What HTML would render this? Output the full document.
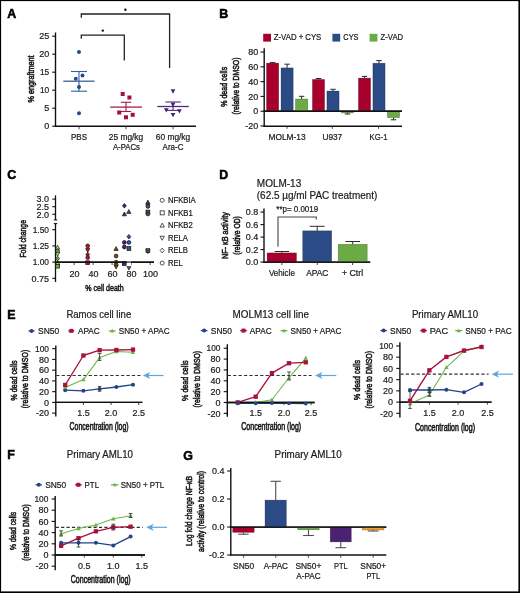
<!DOCTYPE html>
<html><head><meta charset="utf-8"><style>
html,body{margin:0;padding:0;background:#fff;}
svg{display:block;font-family:"Liberation Sans", sans-serif;will-change:transform;}
</style></head><body>
<svg width="520" height="593" viewBox="0 0 520 593">
<rect x="0" y="0" width="520" height="593" fill="#fff"/>
<text transform="translate(7.2,18.2) scale(1.0,1.0)" x="0" y="0" font-size="12.4" text-anchor="start" font-weight="bold" fill="#000" stroke="#000" stroke-width="0.55">A</text>
<line x1="55.5" y1="32.5" x2="55.5" y2="126.8" stroke="#111" stroke-width="1.4"/>
<line x1="54.9" y1="126.2" x2="196" y2="126.2" stroke="#111" stroke-width="1.4"/>
<line x1="52.2" y1="126.2" x2="55.5" y2="126.2" stroke="#111" stroke-width="1.1"/>
<text transform="translate(49.2,129.4) scale(1.0,1.0)" x="0" y="0" font-size="9.0" text-anchor="end" font-weight="normal" fill="#1a1a1a" stroke="#1a1a1a" stroke-width="0.2">0</text>
<line x1="52.2" y1="108.2" x2="55.5" y2="108.2" stroke="#111" stroke-width="1.1"/>
<text transform="translate(49.2,111.4) scale(1.0,1.0)" x="0" y="0" font-size="9.0" text-anchor="end" font-weight="normal" fill="#1a1a1a" stroke="#1a1a1a" stroke-width="0.2">5</text>
<line x1="52.2" y1="90.2" x2="55.5" y2="90.2" stroke="#111" stroke-width="1.1"/>
<text transform="translate(49.2,93.4) scale(0.93,1.0)" x="0" y="0" font-size="9.0" text-anchor="end" font-weight="normal" fill="#1a1a1a" stroke="#1a1a1a" stroke-width="0.2">10</text>
<line x1="52.2" y1="72.2" x2="55.5" y2="72.2" stroke="#111" stroke-width="1.1"/>
<text transform="translate(49.2,75.4) scale(0.93,1.0)" x="0" y="0" font-size="9.0" text-anchor="end" font-weight="normal" fill="#1a1a1a" stroke="#1a1a1a" stroke-width="0.2">15</text>
<line x1="52.2" y1="54.2" x2="55.5" y2="54.2" stroke="#111" stroke-width="1.1"/>
<text transform="translate(49.2,57.400000000000006) scale(1.0,1.0)" x="0" y="0" font-size="9.0" text-anchor="end" font-weight="normal" fill="#1a1a1a" stroke="#1a1a1a" stroke-width="0.2">20</text>
<line x1="52.2" y1="36.2" x2="55.5" y2="36.2" stroke="#111" stroke-width="1.1"/>
<text transform="translate(49.2,39.400000000000006) scale(1.0,1.0)" x="0" y="0" font-size="9.0" text-anchor="end" font-weight="normal" fill="#1a1a1a" stroke="#1a1a1a" stroke-width="0.2">25</text>
<line x1="79" y1="126.2" x2="79" y2="129.3" stroke="#333" stroke-width="0.9"/>
<line x1="126" y1="126.2" x2="126" y2="129.3" stroke="#333" stroke-width="0.9"/>
<line x1="173" y1="126.2" x2="173" y2="129.3" stroke="#333" stroke-width="0.9"/>
<text transform="translate(34.2,78.9) rotate(-90) scale(1.0,1.12)" x="0" y="0" font-size="8.2" text-anchor="middle" font-weight="normal" fill="#1a1a1a" stroke="#1a1a1a" stroke-width="0.5" textLength="47" lengthAdjust="spacingAndGlyphs">% engraftment</text>
<text transform="translate(79,139.9) scale(1.0,1.17)" x="0" y="0" font-size="8" text-anchor="middle" font-weight="normal" fill="#1a1a1a" stroke="#1a1a1a" stroke-width="0.2">PBS</text>
<text transform="translate(126,139.9) scale(1.0,1.17)" x="0" y="0" font-size="8" text-anchor="middle" font-weight="normal" fill="#1a1a1a" stroke="#1a1a1a" stroke-width="0.2" textLength="34.4" lengthAdjust="spacingAndGlyphs">25 mg/kg</text>
<text transform="translate(126.4,149.6) scale(1.0,1.17)" x="0" y="0" font-size="8" text-anchor="middle" font-weight="normal" fill="#1a1a1a" stroke="#1a1a1a" stroke-width="0.2" textLength="27" lengthAdjust="spacingAndGlyphs">A-PACs</text>
<text transform="translate(173,139.9) scale(1.0,1.17)" x="0" y="0" font-size="8" text-anchor="middle" font-weight="normal" fill="#1a1a1a" stroke="#1a1a1a" stroke-width="0.2" textLength="34.4" lengthAdjust="spacingAndGlyphs">60 mg/kg</text>
<text transform="translate(173,149.6) scale(1.0,1.17)" x="0" y="0" font-size="8" text-anchor="middle" font-weight="normal" fill="#1a1a1a" stroke="#1a1a1a" stroke-width="0.2">Ara-C</text>
<polyline points="81.3,17.8 81.3,14 169.6,14 169.6,68" fill="none" stroke="#222" stroke-width="1.3"/>
<polyline points="81.3,38.8 81.3,35.2 124.3,35.2 124.3,60.6" fill="none" stroke="#222" stroke-width="1.3"/>
<circle cx="125.4" cy="9.8" r="1.2" fill="#111"/>
<circle cx="102.8" cy="30.6" r="1.2" fill="#111"/>
<line x1="63.3" y1="81.2" x2="94.6" y2="81.2" stroke="#3b5e98" stroke-width="1.3"/>
<line x1="79" y1="71.5" x2="79" y2="91.2" stroke="#3b5e98" stroke-width="1.1"/>
<line x1="71" y1="71.5" x2="87" y2="71.5" stroke="#3b5e98" stroke-width="1.1"/>
<line x1="71" y1="91.2" x2="87" y2="91.2" stroke="#3b5e98" stroke-width="1.1"/>
<circle cx="79" cy="52.1" r="2.0" fill="#244a8a"/>
<circle cx="75.8" cy="78.7" r="2.0" fill="#244a8a"/>
<circle cx="82.5" cy="75.4" r="2.0" fill="#244a8a"/>
<circle cx="79" cy="87.1" r="2.0" fill="#244a8a"/>
<circle cx="79" cy="113.3" r="2.0" fill="#244a8a"/>
<line x1="110.2" y1="107.1" x2="142" y2="107.1" stroke="#a81c45" stroke-width="1.3"/>
<line x1="126" y1="102.3" x2="126" y2="111.5" stroke="#a81c45" stroke-width="1.1"/>
<line x1="120.8" y1="102.3" x2="131.2" y2="102.3" stroke="#a81c45" stroke-width="1.1"/>
<line x1="120.8" y1="111.5" x2="131.2" y2="111.5" stroke="#a81c45" stroke-width="1.1"/>
<rect x="120.7" y="92.0" width="4.0" height="4.0" fill="#a50f3a"/>
<rect x="127.4" y="95.5" width="4.0" height="4.0" fill="#a50f3a"/>
<rect x="117.2" y="110.5" width="4.0" height="4.0" fill="#a50f3a"/>
<rect x="124.0" y="115.3" width="4.0" height="4.0" fill="#a50f3a"/>
<rect x="130.7" y="112.8" width="4.0" height="4.0" fill="#a50f3a"/>
<line x1="157.3" y1="106.5" x2="188.8" y2="106.5" stroke="#4f2c7e" stroke-width="1.3"/>
<line x1="173" y1="102" x2="173" y2="110.4" stroke="#4f2c7e" stroke-width="1.1"/>
<line x1="165.4" y1="102" x2="180.8" y2="102" stroke="#4f2c7e" stroke-width="1.1"/>
<line x1="165.4" y1="110.4" x2="180.8" y2="110.4" stroke="#4f2c7e" stroke-width="1.1"/>
<path d="M173,93.6725 L175.365,89.3725 L170.635,89.3725 Z" fill="#4a2276"/>
<path d="M166.3,112.4725 L168.66500000000002,108.1725 L163.935,108.1725 Z" fill="#4a2276"/>
<path d="M173,107.07249999999999 L175.365,102.7725 L170.635,102.7725 Z" fill="#4a2276"/>
<path d="M179.4,113.4725 L181.76500000000001,109.1725 L177.035,109.1725 Z" fill="#4a2276"/>
<path d="M173,117.2725 L175.365,112.9725 L170.635,112.9725 Z" fill="#4a2276"/>
<text transform="translate(219.2,18.0) scale(1.0,1.0)" x="0" y="0" font-size="12.4" text-anchor="start" font-weight="bold" fill="#000" stroke="#000" stroke-width="0.55">B</text>
<line x1="264.2" y1="48.3" x2="264.2" y2="126.8" stroke="#111" stroke-width="1.4"/>
<line x1="263.59999999999997" y1="111.2" x2="402" y2="111.2" stroke="#111" stroke-width="1.4"/>
<line x1="263.59999999999997" y1="126.2" x2="402" y2="126.2" stroke="#111" stroke-width="1.4"/>
<line x1="260.5" y1="125.98" x2="264.2" y2="125.98" stroke="#111" stroke-width="1.1"/>
<text transform="translate(258.2,129.18) scale(1.0,1.0)" x="0" y="0" font-size="9.0" text-anchor="end" font-weight="normal" fill="#1a1a1a" stroke="#1a1a1a" stroke-width="0.2">-20</text>
<line x1="260.5" y1="111.2" x2="264.2" y2="111.2" stroke="#111" stroke-width="1.1"/>
<text transform="translate(258.2,114.4) scale(1.0,1.0)" x="0" y="0" font-size="9.0" text-anchor="end" font-weight="normal" fill="#1a1a1a" stroke="#1a1a1a" stroke-width="0.2">0</text>
<line x1="260.5" y1="96.42" x2="264.2" y2="96.42" stroke="#111" stroke-width="1.1"/>
<text transform="translate(258.2,99.62) scale(1.0,1.0)" x="0" y="0" font-size="9.0" text-anchor="end" font-weight="normal" fill="#1a1a1a" stroke="#1a1a1a" stroke-width="0.2">20</text>
<line x1="260.5" y1="81.64" x2="264.2" y2="81.64" stroke="#111" stroke-width="1.1"/>
<text transform="translate(258.2,84.84) scale(1.0,1.0)" x="0" y="0" font-size="9.0" text-anchor="end" font-weight="normal" fill="#1a1a1a" stroke="#1a1a1a" stroke-width="0.2">40</text>
<line x1="260.5" y1="66.86000000000001" x2="264.2" y2="66.86000000000001" stroke="#111" stroke-width="1.1"/>
<text transform="translate(258.2,70.06000000000002) scale(1.0,1.0)" x="0" y="0" font-size="9.0" text-anchor="end" font-weight="normal" fill="#1a1a1a" stroke="#1a1a1a" stroke-width="0.2">60</text>
<line x1="260.5" y1="52.080000000000005" x2="264.2" y2="52.080000000000005" stroke="#111" stroke-width="1.1"/>
<text transform="translate(258.2,55.28000000000001) scale(1.0,1.0)" x="0" y="0" font-size="9.0" text-anchor="end" font-weight="normal" fill="#1a1a1a" stroke="#1a1a1a" stroke-width="0.2">80</text>
<line x1="287" y1="126.2" x2="287" y2="128.8" stroke="#333" stroke-width="0.9"/>
<text transform="translate(287,140.1) scale(1.0,1.17)" x="0" y="0" font-size="8.2" text-anchor="middle" font-weight="normal" fill="#1a1a1a" stroke="#1a1a1a" stroke-width="0.2" textLength="37.2" lengthAdjust="spacingAndGlyphs">MOLM-13</text>
<line x1="332.3" y1="126.2" x2="332.3" y2="128.8" stroke="#333" stroke-width="0.9"/>
<text transform="translate(332.3,140.1) scale(1.0,1.17)" x="0" y="0" font-size="8.2" text-anchor="middle" font-weight="normal" fill="#1a1a1a" stroke="#1a1a1a" stroke-width="0.2" textLength="19.8" lengthAdjust="spacingAndGlyphs">U937</text>
<line x1="378.6" y1="126.2" x2="378.6" y2="128.8" stroke="#333" stroke-width="0.9"/>
<text transform="translate(378.6,140.1) scale(1.0,1.17)" x="0" y="0" font-size="8.2" text-anchor="middle" font-weight="normal" fill="#1a1a1a" stroke="#1a1a1a" stroke-width="0.2" textLength="18.0" lengthAdjust="spacingAndGlyphs">KG-1</text>
<text transform="translate(227.1,86.8) rotate(-90) scale(1.0,1.12)" x="0" y="0" font-size="8.6" text-anchor="middle" font-weight="normal" fill="#1a1a1a" stroke="#1a1a1a" stroke-width="0.5" textLength="40" lengthAdjust="spacingAndGlyphs">% dead cells</text>
<text transform="translate(239.2,86.0) rotate(-90) scale(1.0,1.12)" x="0" y="0" font-size="8.6" text-anchor="middle" font-weight="normal" fill="#1a1a1a" stroke="#1a1a1a" stroke-width="0.5" textLength="57" lengthAdjust="spacingAndGlyphs">(relative to DMSO)</text>
<rect x="263.2" y="33.8" width="7.8" height="7.8" fill="#a8002c"/>
<text transform="translate(273.8,40.4) scale(1.0,1.17)" x="0" y="0" font-size="7.9" text-anchor="start" font-weight="normal" fill="#1a1a1a" stroke="#1a1a1a" stroke-width="0.2" textLength="47.5" lengthAdjust="spacingAndGlyphs">Z-VAD + CYS</text>
<rect x="332.4" y="33.8" width="7.8" height="7.8" fill="#2b4b86"/>
<text transform="translate(343.3,40.4) scale(1.0,1.17)" x="0" y="0" font-size="7.9" text-anchor="start" font-weight="normal" fill="#1a1a1a" stroke="#1a1a1a" stroke-width="0.2" textLength="15.2" lengthAdjust="spacingAndGlyphs">CYS</text>
<rect x="369.6" y="33.8" width="7.8" height="7.8" fill="#6aab43"/>
<text transform="translate(380.6,40.4) scale(1.0,1.17)" x="0" y="0" font-size="7.9" text-anchor="start" font-weight="normal" fill="#1a1a1a" stroke="#1a1a1a" stroke-width="0.2" textLength="22.5" lengthAdjust="spacingAndGlyphs">Z-VAD</text>
<rect x="266.5" y="63.1" width="12.2" height="48.1" fill="#a8002c" stroke="rgba(0,0,0,0.35)" stroke-width="0.6"/>
<line x1="272.6" y1="63.1" x2="272.6" y2="62.6" stroke="#2a2a2a" stroke-width="1.0"/>
<line x1="269.85" y1="62.6" x2="275.35" y2="62.6" stroke="#2a2a2a" stroke-width="1.0"/>
<rect x="281.0" y="67.9" width="12.2" height="43.3" fill="#2b4b86" stroke="rgba(0,0,0,0.35)" stroke-width="0.6"/>
<line x1="287.1" y1="67.9" x2="287.1" y2="64.2" stroke="#2a2a2a" stroke-width="1.0"/>
<line x1="284.35" y1="64.2" x2="289.85" y2="64.2" stroke="#2a2a2a" stroke-width="1.0"/>
<rect x="295.5" y="99.0" width="12.2" height="12.200000000000003" fill="#6aab43" stroke="rgba(0,0,0,0.35)" stroke-width="0.6"/>
<line x1="301.6" y1="99.0" x2="301.6" y2="96.3" stroke="#2a2a2a" stroke-width="1.0"/>
<line x1="298.85" y1="96.3" x2="304.35" y2="96.3" stroke="#2a2a2a" stroke-width="1.0"/>
<rect x="312.4" y="79.4" width="12.2" height="31.799999999999997" fill="#a8002c" stroke="rgba(0,0,0,0.35)" stroke-width="0.6"/>
<line x1="318.5" y1="79.4" x2="318.5" y2="78.5" stroke="#2a2a2a" stroke-width="1.0"/>
<line x1="315.75" y1="78.5" x2="321.25" y2="78.5" stroke="#2a2a2a" stroke-width="1.0"/>
<rect x="326.9" y="91.0" width="12.2" height="20.200000000000003" fill="#2b4b86" stroke="rgba(0,0,0,0.35)" stroke-width="0.6"/>
<line x1="333.0" y1="91.0" x2="333.0" y2="89.3" stroke="#2a2a2a" stroke-width="1.0"/>
<line x1="330.25" y1="89.3" x2="335.75" y2="89.3" stroke="#2a2a2a" stroke-width="1.0"/>
<rect x="341.4" y="111.2" width="12.2" height="1.7000000000000028" fill="#6aab43" stroke="rgba(0,0,0,0.35)" stroke-width="0.6"/>
<line x1="347.5" y1="112.9" x2="347.5" y2="114.0" stroke="#2a2a2a" stroke-width="1.0"/>
<line x1="344.75" y1="114.0" x2="350.25" y2="114.0" stroke="#2a2a2a" stroke-width="1.0"/>
<rect x="358.4" y="78.1" width="12.2" height="33.10000000000001" fill="#a8002c" stroke="rgba(0,0,0,0.35)" stroke-width="0.6"/>
<line x1="364.5" y1="78.1" x2="364.5" y2="76.4" stroke="#2a2a2a" stroke-width="1.0"/>
<line x1="361.75" y1="76.4" x2="367.25" y2="76.4" stroke="#2a2a2a" stroke-width="1.0"/>
<rect x="372.9" y="63.2" width="12.2" height="48.0" fill="#2b4b86" stroke="rgba(0,0,0,0.35)" stroke-width="0.6"/>
<line x1="379.0" y1="63.2" x2="379.0" y2="60.6" stroke="#2a2a2a" stroke-width="1.0"/>
<line x1="376.25" y1="60.6" x2="381.75" y2="60.6" stroke="#2a2a2a" stroke-width="1.0"/>
<rect x="387.4" y="111.2" width="12.2" height="6.3999999999999915" fill="#6aab43" stroke="rgba(0,0,0,0.35)" stroke-width="0.6"/>
<line x1="393.5" y1="117.6" x2="393.5" y2="119.8" stroke="#2a2a2a" stroke-width="1.0"/>
<line x1="390.75" y1="119.8" x2="396.25" y2="119.8" stroke="#2a2a2a" stroke-width="1.0"/>
<line x1="263.59999999999997" y1="111.2" x2="402" y2="111.2" stroke="#111" stroke-width="1.4"/>
<text transform="translate(7.2,179.0) scale(1.0,1.0)" x="0" y="0" font-size="12.4" text-anchor="start" font-weight="bold" fill="#000" stroke="#000" stroke-width="0.55">C</text>
<line x1="55.5" y1="195.4" x2="55.5" y2="219.9" stroke="#111" stroke-width="1.3"/>
<line x1="53.8" y1="219.9" x2="57.2" y2="219.9" stroke="#111" stroke-width="1.1"/>
<line x1="53.8" y1="223.6" x2="57.2" y2="223.6" stroke="#111" stroke-width="1.1"/>
<line x1="55.5" y1="223.6" x2="55.5" y2="282" stroke="#111" stroke-width="1.3"/>
<line x1="52.3" y1="199.1" x2="55.5" y2="199.1" stroke="#111" stroke-width="1.1"/>
<text transform="translate(49.0,202.29999999999998) scale(1.0,1.0)" x="0" y="0" font-size="9.0" text-anchor="end" font-weight="normal" fill="#1a1a1a" stroke="#1a1a1a" stroke-width="0.2">3.0</text>
<line x1="52.3" y1="206.7" x2="55.5" y2="206.7" stroke="#111" stroke-width="1.1"/>
<text transform="translate(49.0,209.89999999999998) scale(1.0,1.0)" x="0" y="0" font-size="9.0" text-anchor="end" font-weight="normal" fill="#1a1a1a" stroke="#1a1a1a" stroke-width="0.2">2.5</text>
<line x1="52.3" y1="214.3" x2="55.5" y2="214.3" stroke="#111" stroke-width="1.1"/>
<text transform="translate(49.0,217.5) scale(1.0,1.0)" x="0" y="0" font-size="9.0" text-anchor="end" font-weight="normal" fill="#1a1a1a" stroke="#1a1a1a" stroke-width="0.2">2.0</text>
<line x1="52.3" y1="229.7" x2="55.5" y2="229.7" stroke="#111" stroke-width="1.1"/>
<text transform="translate(49.0,232.89999999999998) scale(0.93,1.0)" x="0" y="0" font-size="9.0" text-anchor="end" font-weight="normal" fill="#1a1a1a" stroke="#1a1a1a" stroke-width="0.2">1.50</text>
<line x1="52.3" y1="245.9" x2="55.5" y2="245.9" stroke="#111" stroke-width="1.1"/>
<text transform="translate(49.0,249.1) scale(0.93,1.0)" x="0" y="0" font-size="9.0" text-anchor="end" font-weight="normal" fill="#1a1a1a" stroke="#1a1a1a" stroke-width="0.2">1.25</text>
<line x1="52.3" y1="262.1" x2="55.5" y2="262.1" stroke="#111" stroke-width="1.1"/>
<text transform="translate(49.0,265.3) scale(0.93,1.0)" x="0" y="0" font-size="9.0" text-anchor="end" font-weight="normal" fill="#1a1a1a" stroke="#1a1a1a" stroke-width="0.2">1.00</text>
<line x1="52.3" y1="278.3" x2="55.5" y2="278.3" stroke="#111" stroke-width="1.1"/>
<text transform="translate(49.0,281.5) scale(1.0,1.0)" x="0" y="0" font-size="9.0" text-anchor="end" font-weight="normal" fill="#1a1a1a" stroke="#1a1a1a" stroke-width="0.2">0.75</text>
<line x1="54.9" y1="262.2" x2="154" y2="262.2" stroke="#111" stroke-width="1.4"/>
<line x1="74.1" y1="262.2" x2="74.1" y2="265" stroke="#333" stroke-width="0.9"/>
<text transform="translate(74.5,277) scale(1.0,1.0)" x="0" y="0" font-size="9.0" text-anchor="middle" font-weight="normal" fill="#1a1a1a" stroke="#1a1a1a" stroke-width="0.2">20</text>
<line x1="93.1" y1="262.2" x2="93.1" y2="265" stroke="#333" stroke-width="0.9"/>
<text transform="translate(93.5,277) scale(1.0,1.0)" x="0" y="0" font-size="9.0" text-anchor="middle" font-weight="normal" fill="#1a1a1a" stroke="#1a1a1a" stroke-width="0.2">40</text>
<line x1="112.1" y1="262.2" x2="112.1" y2="265" stroke="#333" stroke-width="0.9"/>
<text transform="translate(112.5,277) scale(1.0,1.0)" x="0" y="0" font-size="9.0" text-anchor="middle" font-weight="normal" fill="#1a1a1a" stroke="#1a1a1a" stroke-width="0.2">60</text>
<line x1="131.1" y1="262.2" x2="131.1" y2="265" stroke="#333" stroke-width="0.9"/>
<text transform="translate(131.5,277) scale(1.0,1.0)" x="0" y="0" font-size="9.0" text-anchor="middle" font-weight="normal" fill="#1a1a1a" stroke="#1a1a1a" stroke-width="0.2">80</text>
<line x1="150.1" y1="262.2" x2="150.1" y2="265" stroke="#333" stroke-width="0.9"/>
<text transform="translate(150.5,277) scale(1.0,1.0)" x="0" y="0" font-size="9.0" text-anchor="middle" font-weight="normal" fill="#1a1a1a" stroke="#1a1a1a" stroke-width="0.2">100</text>
<text transform="translate(25.8,238.8) rotate(-90) scale(1.0,1.12)" x="0" y="0" font-size="8.6" text-anchor="middle" font-weight="normal" fill="#1a1a1a" stroke="#1a1a1a" stroke-width="0.5" textLength="37.5" lengthAdjust="spacingAndGlyphs">Fold change</text>
<text transform="translate(104.5,291.2) scale(1.0,1.06)" x="0" y="0" font-size="8.6" text-anchor="middle" font-weight="normal" fill="#1a1a1a" stroke="#1a1a1a" stroke-width="0.5" textLength="38.5" lengthAdjust="spacingAndGlyphs">% cell death</text>
<circle cx="162.2" cy="200.3" r="2.0" fill="none" stroke="#333" stroke-width="0.85"/>
<text transform="translate(167.9,203.10000000000002) scale(1.0,1.17)" x="0" y="0" font-size="7.7" text-anchor="start" font-weight="normal" fill="#1a1a1a" stroke="#1a1a1a" stroke-width="0.2">NFKBIA</text>
<rect x="160.2" y="210.85000000000002" width="4.0" height="4.0" fill="none" stroke="#333" stroke-width="0.85"/>
<text transform="translate(167.9,215.65000000000003) scale(1.0,1.17)" x="0" y="0" font-size="7.7" text-anchor="start" font-weight="normal" fill="#1a1a1a" stroke="#1a1a1a" stroke-width="0.2">NFKB1</text>
<path d="M162.2,223.1 L164.39999999999998,227.1 L160.0,227.1 Z" fill="none" stroke="#333" stroke-width="0.85"/>
<text transform="translate(167.9,228.20000000000002) scale(1.0,1.17)" x="0" y="0" font-size="7.7" text-anchor="start" font-weight="normal" fill="#1a1a1a" stroke="#1a1a1a" stroke-width="0.2">NFKB2</text>
<path d="M162.2,240.25000000000003 L164.39999999999998,236.25000000000003 L160.0,236.25000000000003 Z" fill="none" stroke="#333" stroke-width="0.85"/>
<text transform="translate(167.9,240.75000000000003) scale(1.0,1.17)" x="0" y="0" font-size="7.7" text-anchor="start" font-weight="normal" fill="#1a1a1a" stroke="#1a1a1a" stroke-width="0.2">RELA</text>
<path d="M162.2,248.1 L164.2,250.5 L162.2,252.9 L160.2,250.5 Z" fill="none" stroke="#333" stroke-width="0.85"/>
<text transform="translate(167.9,253.3) scale(1.0,1.17)" x="0" y="0" font-size="7.7" text-anchor="start" font-weight="normal" fill="#1a1a1a" stroke="#1a1a1a" stroke-width="0.2">RELB</text>
<circle cx="162.2" cy="263.05" r="2.0" fill="none" stroke="#333" stroke-width="0.85"/>
<text transform="translate(167.9,265.85) scale(1.0,1.17)" x="0" y="0" font-size="7.7" text-anchor="start" font-weight="normal" fill="#1a1a1a" stroke="#1a1a1a" stroke-width="0.2">REL</text>
<path d="M57.6,245.315 L59.69,249.115 L55.510000000000005,249.115 Z" fill="#b5e48c" stroke="#111" stroke-width="0.7"/>
<circle cx="57.6" cy="251.1" r="1.9" fill="#5fb233" stroke="#111" stroke-width="0.7"/>
<path d="M57.6,256.185 L59.69,252.385 L55.510000000000005,252.385 Z" fill="#b5e48c" stroke="#111" stroke-width="0.7"/>
<path d="M57.6,256.32000000000005 L59.5,258.6 L57.6,260.88 L55.7,258.6 Z" fill="#5fb233" stroke="#111" stroke-width="0.7"/>
<path d="M57.6,260.815 L59.69,264.615 L55.510000000000005,264.615 Z" fill="#b5e48c" stroke="#111" stroke-width="0.7"/>
<rect x="55.7" y="264.3" width="3.8" height="3.8" fill="#5fb233" stroke="#111" stroke-width="0.7"/>
<circle cx="87.7" cy="245.9" r="1.9" fill="#c0102e" stroke="#111" stroke-width="0.7"/>
<path d="M87.7,252.385 L89.79,248.58499999999998 L85.61,248.58499999999998 Z" fill="#c0102e" stroke="#111" stroke-width="0.7"/>
<path d="M87.7,252.22 L89.60000000000001,254.5 L87.7,256.78 L85.8,254.5 Z" fill="#c0102e" stroke="#111" stroke-width="0.7"/>
<circle cx="87.7" cy="257.6" r="1.9" fill="#c0102e" stroke="#111" stroke-width="0.7"/>
<rect x="85.8" y="260.8" width="3.8" height="3.8" fill="#c0102e" stroke="#111" stroke-width="0.7"/>
<path d="M116.1,246.615 L118.19,250.41500000000002 L114.00999999999999,250.41500000000002 Z" fill="#7f4c16" stroke="#111" stroke-width="0.7"/>
<circle cx="116.1" cy="256.0" r="1.9" fill="#7f4c16" stroke="#111" stroke-width="0.7"/>
<circle cx="116.1" cy="262.2" r="1.9" fill="#7f4c16" stroke="#111" stroke-width="0.7"/>
<path d="M116.1,262.42 L118.0,264.7 L116.1,266.97999999999996 L114.19999999999999,264.7 Z" fill="#7f4c16" stroke="#111" stroke-width="0.7"/>
<path d="M116.1,268.985 L118.19,265.185 L114.00999999999999,265.185 Z" fill="#7f4c16" stroke="#111" stroke-width="0.7"/>
<path d="M124.4,203.52 L126.30000000000001,205.8 L124.4,208.08 L122.5,205.8 Z" fill="#4f1f78" stroke="#111" stroke-width="0.7"/>
<path d="M124.4,212.015 L126.49000000000001,215.815 L122.31,215.815 Z" fill="#4f1f78" stroke="#111" stroke-width="0.7"/>
<circle cx="124.3" cy="242.4" r="1.9" fill="#4f1f78" stroke="#111" stroke-width="0.7"/>
<circle cx="124.3" cy="247.0" r="1.9" fill="#4f1f78" stroke="#111" stroke-width="0.7"/>
<rect x="122.39999999999999" y="261.70000000000005" width="3.8" height="3.8" fill="#4f1f78" stroke="#111" stroke-width="0.7"/>
<path d="M128.8,209.615 L130.89000000000001,213.41500000000002 L126.71000000000001,213.41500000000002 Z" fill="#2a559c" stroke="#111" stroke-width="0.7"/>
<path d="M128.9,234.42 L130.8,236.7 L128.9,238.98 L127.0,236.7 Z" fill="#2a559c" stroke="#111" stroke-width="0.7"/>
<circle cx="128.9" cy="242.4" r="1.9" fill="#2a559c" stroke="#111" stroke-width="0.7"/>
<rect x="127.0" y="246.6" width="3.8" height="3.8" fill="#2a559c" stroke="#111" stroke-width="0.7"/>
<path d="M128.9,270.085 L130.99,266.28499999999997 L126.81,266.28499999999997 Z" fill="#2a559c" stroke="#111" stroke-width="0.7"/>
<path d="M147.9,200.115 L149.99,203.91500000000002 L145.81,203.91500000000002 Z" fill="#46536c" stroke="#111" stroke-width="0.7"/>
<path d="M147.9,202.32 L149.8,204.6 L147.9,206.88 L146.0,204.6 Z" fill="#46536c" stroke="#111" stroke-width="0.7"/>
<circle cx="147.9" cy="206.4" r="1.9" fill="#46536c" stroke="#111" stroke-width="0.7"/>
<rect x="146.0" y="210.1" width="3.8" height="3.8" fill="#46536c" stroke="#111" stroke-width="0.7"/>
<circle cx="147.9" cy="214.0" r="1.9" fill="#46536c" stroke="#111" stroke-width="0.7"/>
<path d="M147.9,253.585 L149.99,249.785 L145.81,249.785 Z" fill="#46536c" stroke="#111" stroke-width="0.7"/>
<rect x="146.0" y="248.7" width="3.8" height="3.8" fill="#46536c" stroke="#111" stroke-width="0.7"/>
<rect x="126.8" y="262.6" width="4.2" height="3.6" fill="#fff"/>
<line x1="54.9" y1="262.2" x2="126.8" y2="262.2" stroke="#111" stroke-width="1.4"/>
<line x1="131.0" y1="262.2" x2="154" y2="262.2" stroke="#111" stroke-width="1.4"/>
<text transform="translate(219.2,179.2) scale(1.0,1.0)" x="0" y="0" font-size="12.4" text-anchor="start" font-weight="bold" fill="#000" stroke="#000" stroke-width="0.55">D</text>
<text transform="translate(256.8,186.9) scale(1.0,1.05)" x="0" y="0" font-size="10" text-anchor="start" font-weight="normal" fill="#1a1a1a" stroke="#1a1a1a" stroke-width="0.2">MOLM-13</text>
<text transform="translate(256.8,199.2) scale(1.0,1.05)" x="0" y="0" font-size="10" text-anchor="start" font-weight="normal" fill="#1a1a1a" stroke="#1a1a1a" stroke-width="0.2" textLength="120.5" lengthAdjust="spacingAndGlyphs">(62.5 µg/ml PAC treatment)</text>
<line x1="264.0" y1="208.5" x2="264.0" y2="262.70000000000005" stroke="#111" stroke-width="1.4"/>
<line x1="263.4" y1="262.1" x2="370.2" y2="262.1" stroke="#111" stroke-width="1.4"/>
<line x1="260.5" y1="262.1" x2="264.0" y2="262.1" stroke="#111" stroke-width="1.1"/>
<text transform="translate(258.2,265.3) scale(1.0,1.0)" x="0" y="0" font-size="9.0" text-anchor="end" font-weight="normal" fill="#1a1a1a" stroke="#1a1a1a" stroke-width="0.2">0.0</text>
<line x1="260.5" y1="249.60000000000002" x2="264.0" y2="249.60000000000002" stroke="#111" stroke-width="1.1"/>
<text transform="translate(258.2,252.8) scale(1.0,1.0)" x="0" y="0" font-size="9.0" text-anchor="end" font-weight="normal" fill="#1a1a1a" stroke="#1a1a1a" stroke-width="0.2">0.2</text>
<line x1="260.5" y1="237.10000000000002" x2="264.0" y2="237.10000000000002" stroke="#111" stroke-width="1.1"/>
<text transform="translate(258.2,240.3) scale(1.0,1.0)" x="0" y="0" font-size="9.0" text-anchor="end" font-weight="normal" fill="#1a1a1a" stroke="#1a1a1a" stroke-width="0.2">0.4</text>
<line x1="260.5" y1="224.60000000000002" x2="264.0" y2="224.60000000000002" stroke="#111" stroke-width="1.1"/>
<text transform="translate(258.2,227.8) scale(1.0,1.0)" x="0" y="0" font-size="9.0" text-anchor="end" font-weight="normal" fill="#1a1a1a" stroke="#1a1a1a" stroke-width="0.2">0.6</text>
<line x1="260.5" y1="212.10000000000002" x2="264.0" y2="212.10000000000002" stroke="#111" stroke-width="1.1"/>
<text transform="translate(258.2,215.3) scale(1.0,1.0)" x="0" y="0" font-size="9.0" text-anchor="end" font-weight="normal" fill="#1a1a1a" stroke="#1a1a1a" stroke-width="0.2">0.8</text>
<text transform="translate(228.1,235.6) rotate(-90) scale(1.0,1.12)" x="0" y="0" font-size="8.6" text-anchor="middle" font-weight="normal" fill="#1a1a1a" stroke="#1a1a1a" stroke-width="0.5" textLength="47" lengthAdjust="spacingAndGlyphs">NF- κB activity</text>
<text transform="translate(239.6,235.4) rotate(-90) scale(1.0,1.12)" x="0" y="0" font-size="8.6" text-anchor="middle" font-weight="normal" fill="#1a1a1a" stroke="#1a1a1a" stroke-width="0.5" textLength="38.5" lengthAdjust="spacingAndGlyphs">(relative OD)</text>
<rect x="267.1" y="252.9" width="29.4" height="9.200000000000017" fill="#a8002c" stroke="rgba(0,0,0,0.35)" stroke-width="0.6"/>
<line x1="281.8" y1="252.9" x2="281.8" y2="251.5" stroke="#2a2a2a" stroke-width="1.0"/>
<line x1="274.6" y1="251.5" x2="289.0" y2="251.5" stroke="#2a2a2a" stroke-width="1.0"/>
<rect x="302.7" y="230.8" width="29.0" height="31.30000000000001" fill="#2b4b86" stroke="rgba(0,0,0,0.35)" stroke-width="0.6"/>
<line x1="317.2" y1="230.8" x2="317.2" y2="226.3" stroke="#2a2a2a" stroke-width="1.0"/>
<line x1="309.8" y1="226.3" x2="324.59999999999997" y2="226.3" stroke="#2a2a2a" stroke-width="1.0"/>
<rect x="338.2" y="244.3" width="29.0" height="17.80000000000001" fill="#6aab43" stroke="rgba(0,0,0,0.35)" stroke-width="0.6"/>
<line x1="352.7" y1="244.3" x2="352.7" y2="241.5" stroke="#2a2a2a" stroke-width="1.0"/>
<line x1="345.4" y1="241.5" x2="360.0" y2="241.5" stroke="#2a2a2a" stroke-width="1.0"/>
<line x1="263.4" y1="262.1" x2="370.2" y2="262.1" stroke="#111" stroke-width="1.4"/>
<line x1="281.9" y1="262.1" x2="281.9" y2="265" stroke="#333" stroke-width="0.9"/>
<text transform="translate(281.9,276.2) scale(1.0,1.17)" x="0" y="0" font-size="8.2" text-anchor="middle" font-weight="normal" fill="#1a1a1a" stroke="#1a1a1a" stroke-width="0.2" textLength="26.0" lengthAdjust="spacingAndGlyphs">Vehicle</text>
<line x1="317.3" y1="262.1" x2="317.3" y2="265" stroke="#333" stroke-width="0.9"/>
<text transform="translate(317.3,276.2) scale(1.0,1.17)" x="0" y="0" font-size="8.2" text-anchor="middle" font-weight="normal" fill="#1a1a1a" stroke="#1a1a1a" stroke-width="0.2" textLength="22.2" lengthAdjust="spacingAndGlyphs">APAC</text>
<line x1="352.6" y1="262.1" x2="352.6" y2="265" stroke="#333" stroke-width="0.9"/>
<text transform="translate(352.6,276.2) scale(1.0,1.17)" x="0" y="0" font-size="8.2" text-anchor="middle" font-weight="normal" fill="#1a1a1a" stroke="#1a1a1a" stroke-width="0.2" textLength="21.0" lengthAdjust="spacingAndGlyphs">+ Ctrl</text>
<polyline points="278,246.7 278,217 316.3,217 316.3,219.4" fill="none" stroke="#444" stroke-width="1.1"/>
<text transform="translate(276.3,211.5) scale(1.0,1.17)" x="0" y="0" font-size="7.9" text-anchor="start" font-weight="normal" fill="#1a1a1a" stroke="#1a1a1a" stroke-width="0.2" textLength="41.8" lengthAdjust="spacingAndGlyphs">**p= 0.0019</text>
<text transform="translate(7.2,319.3) scale(1.0,1.0)" x="0" y="0" font-size="12.4" text-anchor="start" font-weight="bold" fill="#000" stroke="#000" stroke-width="0.55">E</text>
<text transform="translate(66.4,317.7) scale(1.0,1.05)" x="0" y="0" font-size="9.9" text-anchor="start" font-weight="normal" fill="#1a1a1a" stroke="#1a1a1a" stroke-width="0.2" textLength="64.8" lengthAdjust="spacingAndGlyphs">Ramos cell line</text>
<line x1="28.5" y1="330.9" x2="34.6" y2="330.9" stroke="#23448a" stroke-width="1.3"/>
<circle cx="31.55" cy="330.9" r="2.0" fill="#23448a"/>
<text transform="translate(38.0,333.9) scale(1.0,1.08)" x="0" y="0" font-size="8.3" text-anchor="start" font-weight="normal" fill="#1a1a1a" stroke="#1a1a1a" stroke-width="0.2" textLength="21.2" lengthAdjust="spacingAndGlyphs">SN50</text>
<line x1="68.3" y1="330.9" x2="74.4" y2="330.9" stroke="#a8113a" stroke-width="1.3"/>
<rect x="69.35" y="328.9" width="4.0" height="4.0" fill="#a8113a"/>
<text transform="translate(77.9,333.9) scale(1.0,1.08)" x="0" y="0" font-size="8.3" text-anchor="start" font-weight="normal" fill="#1a1a1a" stroke="#1a1a1a" stroke-width="0.2" textLength="21.8" lengthAdjust="spacingAndGlyphs">APAC</text>
<line x1="108.8" y1="330.9" x2="115.6" y2="330.9" stroke="#6cb545" stroke-width="1.3"/>
<path d="M112.19999999999999,328.83 L114.17999999999999,332.42999999999995 L110.21999999999998,332.42999999999995 Z" fill="#6cb545"/>
<text transform="translate(118.8,333.9) scale(1.0,1.08)" x="0" y="0" font-size="8.3" text-anchor="start" font-weight="normal" fill="#1a1a1a" stroke="#1a1a1a" stroke-width="0.2" textLength="50.8" lengthAdjust="spacingAndGlyphs">SN50 + APAC</text>
<line x1="55.8" y1="345.4" x2="55.8" y2="416.4" stroke="#111" stroke-width="1.4"/>
<line x1="55.199999999999996" y1="402.4" x2="142.3" y2="402.4" stroke="#111" stroke-width="1.4"/>
<line x1="52.199999999999996" y1="413.15" x2="55.8" y2="413.15" stroke="#111" stroke-width="1.1"/>
<text transform="translate(49.0,416.34999999999997) scale(1.0,1.0)" x="0" y="0" font-size="9.0" text-anchor="end" font-weight="normal" fill="#1a1a1a" stroke="#1a1a1a" stroke-width="0.2">-20</text>
<line x1="52.199999999999996" y1="402.4" x2="55.8" y2="402.4" stroke="#111" stroke-width="1.1"/>
<text transform="translate(49.0,405.59999999999997) scale(1.0,1.0)" x="0" y="0" font-size="9.0" text-anchor="end" font-weight="normal" fill="#1a1a1a" stroke="#1a1a1a" stroke-width="0.2">0</text>
<line x1="52.199999999999996" y1="391.65" x2="55.8" y2="391.65" stroke="#111" stroke-width="1.1"/>
<text transform="translate(49.0,394.84999999999997) scale(1.0,1.0)" x="0" y="0" font-size="9.0" text-anchor="end" font-weight="normal" fill="#1a1a1a" stroke="#1a1a1a" stroke-width="0.2">20</text>
<line x1="52.199999999999996" y1="380.9" x2="55.8" y2="380.9" stroke="#111" stroke-width="1.1"/>
<text transform="translate(49.0,384.09999999999997) scale(1.0,1.0)" x="0" y="0" font-size="9.0" text-anchor="end" font-weight="normal" fill="#1a1a1a" stroke="#1a1a1a" stroke-width="0.2">40</text>
<line x1="52.199999999999996" y1="370.15" x2="55.8" y2="370.15" stroke="#111" stroke-width="1.1"/>
<text transform="translate(49.0,373.34999999999997) scale(1.0,1.0)" x="0" y="0" font-size="9.0" text-anchor="end" font-weight="normal" fill="#1a1a1a" stroke="#1a1a1a" stroke-width="0.2">60</text>
<line x1="52.199999999999996" y1="359.4" x2="55.8" y2="359.4" stroke="#111" stroke-width="1.1"/>
<text transform="translate(49.0,362.59999999999997) scale(1.0,1.0)" x="0" y="0" font-size="9.0" text-anchor="end" font-weight="normal" fill="#1a1a1a" stroke="#1a1a1a" stroke-width="0.2">80</text>
<line x1="52.199999999999996" y1="348.65" x2="55.8" y2="348.65" stroke="#111" stroke-width="1.1"/>
<text transform="translate(49.0,351.84999999999997) scale(0.93,1.0)" x="0" y="0" font-size="9.0" text-anchor="end" font-weight="normal" fill="#1a1a1a" stroke="#1a1a1a" stroke-width="0.2">100</text>
<line x1="83.4" y1="402.4" x2="83.4" y2="405.0" stroke="#333" stroke-width="0.9"/>
<text transform="translate(83.4,416.0) scale(1.0,1.0)" x="0" y="0" font-size="9.0" text-anchor="middle" font-weight="normal" fill="#1a1a1a" stroke="#1a1a1a" stroke-width="0.2">1.5</text>
<line x1="111.1" y1="402.4" x2="111.1" y2="405.0" stroke="#333" stroke-width="0.9"/>
<text transform="translate(111.1,416.0) scale(1.0,1.0)" x="0" y="0" font-size="9.0" text-anchor="middle" font-weight="normal" fill="#1a1a1a" stroke="#1a1a1a" stroke-width="0.2">2.0</text>
<line x1="138.7" y1="402.4" x2="138.7" y2="405.0" stroke="#333" stroke-width="0.9"/>
<text transform="translate(138.7,416.0) scale(1.0,1.0)" x="0" y="0" font-size="9.0" text-anchor="middle" font-weight="normal" fill="#1a1a1a" stroke="#1a1a1a" stroke-width="0.2">2.5</text>
<line x1="56.3" y1="375.5" x2="141.6" y2="375.5" stroke="#303030" stroke-width="1.2" stroke-dasharray="3.2,2.2"/>
<line x1="145.8" y1="375.5" x2="163.5" y2="375.5" stroke="#5fa5e0" stroke-width="1.2"/>
<path d="M142.8,375.5 L150.3,371.9 L148.3,375.5 L150.3,379.1 Z" fill="#5fa5e0"/>
<text transform="translate(16.6,380.4) rotate(-90) scale(1.0,1.12)" x="0" y="0" font-size="8.6" text-anchor="middle" font-weight="normal" fill="#1a1a1a" stroke="#1a1a1a" stroke-width="0.5" textLength="40" lengthAdjust="spacingAndGlyphs">% dead cells</text>
<text transform="translate(28.4,379.0) rotate(-90) scale(1.0,1.12)" x="0" y="0" font-size="8.6" text-anchor="middle" font-weight="normal" fill="#1a1a1a" stroke="#1a1a1a" stroke-width="0.5" textLength="58.5" lengthAdjust="spacingAndGlyphs">(relative to DMSO)</text>
<text transform="translate(99.1,429.7) scale(1.0,1.17)" x="0" y="0" font-size="8.8" text-anchor="middle" font-weight="normal" fill="#1a1a1a" stroke="#1a1a1a" stroke-width="0.5" textLength="59" lengthAdjust="spacingAndGlyphs">Concentration (log)</text>
<polyline points="65.2,390.2 83.4,390.8 99.6,388.9 116.4,387.0 133.0,384.7" fill="none" stroke="#23448a" stroke-width="1.35" stroke-linejoin="round"/>
<polyline points="65.2,387.4 83.4,379.6 99.6,357.6 116.4,351.6 133.0,352.3" fill="none" stroke="#6cb545" stroke-width="1.05" stroke-linejoin="round"/>
<polyline points="65.2,385.0 83.4,355.5 99.6,350.2 116.4,350.0 133.0,349.6" fill="none" stroke="#a8113a" stroke-width="1.35" stroke-linejoin="round"/>
<line x1="55.199999999999996" y1="402.4" x2="142.3" y2="402.4" stroke="#111" stroke-width="1.4"/>
<circle cx="65.2" cy="390.2" r="2.0" fill="#23448a"/>
<circle cx="83.4" cy="390.8" r="2.0" fill="#23448a"/>
<circle cx="99.6" cy="388.9" r="2.0" fill="#23448a"/>
<circle cx="116.4" cy="387.0" r="2.0" fill="#23448a"/>
<circle cx="133.0" cy="384.7" r="2.0" fill="#23448a"/>
<line x1="99.6" y1="386.6" x2="99.6" y2="391.2" stroke="#333" stroke-width="0.8"/>
<line x1="97.8" y1="386.6" x2="101.39999999999999" y2="386.6" stroke="#333" stroke-width="0.9"/>
<line x1="97.8" y1="391.2" x2="101.39999999999999" y2="391.2" stroke="#333" stroke-width="0.9"/>
<path d="M65.2,385.09999999999997 L67.4,389.09999999999997 L63.0,389.09999999999997 Z" fill="#6cb545"/>
<path d="M83.4,377.3 L85.60000000000001,381.3 L81.2,381.3 Z" fill="#6cb545"/>
<path d="M99.6,355.3 L101.8,359.3 L97.39999999999999,359.3 Z" fill="#6cb545"/>
<path d="M116.4,349.3 L118.60000000000001,353.3 L114.2,353.3 Z" fill="#6cb545"/>
<path d="M133.0,350.0 L135.2,354.0 L130.8,354.0 Z" fill="#6cb545"/>
<line x1="99.6" y1="353.6" x2="99.6" y2="360.4" stroke="#333" stroke-width="0.8"/>
<line x1="97.8" y1="353.6" x2="101.39999999999999" y2="353.6" stroke="#333" stroke-width="0.9"/>
<line x1="97.8" y1="360.4" x2="101.39999999999999" y2="360.4" stroke="#333" stroke-width="0.9"/>
<rect x="63.050000000000004" y="382.85" width="4.3" height="4.3" fill="#a8113a"/>
<rect x="81.25" y="353.35" width="4.3" height="4.3" fill="#a8113a"/>
<rect x="97.44999999999999" y="348.05" width="4.3" height="4.3" fill="#a8113a"/>
<rect x="114.25" y="347.85" width="4.3" height="4.3" fill="#a8113a"/>
<rect x="130.85" y="347.45000000000005" width="4.3" height="4.3" fill="#a8113a"/>
<text transform="translate(232.6,318.1) scale(1.0,1.05)" x="0" y="0" font-size="9.9" text-anchor="start" font-weight="normal" fill="#1a1a1a" stroke="#1a1a1a" stroke-width="0.2" textLength="76.4" lengthAdjust="spacingAndGlyphs">MOLM13 cell line</text>
<line x1="200.8" y1="330.6" x2="207.5" y2="330.6" stroke="#23448a" stroke-width="1.3"/>
<circle cx="204.15" cy="330.6" r="2.0" fill="#23448a"/>
<text transform="translate(210.8,333.6) scale(1.0,1.08)" x="0" y="0" font-size="8.3" text-anchor="start" font-weight="normal" fill="#1a1a1a" stroke="#1a1a1a" stroke-width="0.2" textLength="21.2" lengthAdjust="spacingAndGlyphs">SN50</text>
<line x1="240.2" y1="330.6" x2="246.9" y2="330.6" stroke="#a8113a" stroke-width="1.3"/>
<rect x="241.55" y="328.6" width="4.0" height="4.0" fill="#a8113a"/>
<text transform="translate(249.8,333.6) scale(1.0,1.08)" x="0" y="0" font-size="8.3" text-anchor="start" font-weight="normal" fill="#1a1a1a" stroke="#1a1a1a" stroke-width="0.2" textLength="21.8" lengthAdjust="spacingAndGlyphs">APAC</text>
<line x1="280.6" y1="330.6" x2="287.4" y2="330.6" stroke="#6cb545" stroke-width="1.3"/>
<path d="M284.0,328.53000000000003 L285.98,332.13 L282.02,332.13 Z" fill="#6cb545"/>
<text transform="translate(290.6,333.6) scale(1.0,1.08)" x="0" y="0" font-size="8.3" text-anchor="start" font-weight="normal" fill="#1a1a1a" stroke="#1a1a1a" stroke-width="0.2" textLength="50.8" lengthAdjust="spacingAndGlyphs">SN50 + APAC</text>
<line x1="227.3" y1="344.3" x2="227.3" y2="416.8" stroke="#111" stroke-width="1.4"/>
<line x1="226.70000000000002" y1="402.5" x2="314.6" y2="402.5" stroke="#111" stroke-width="1.4"/>
<line x1="223.70000000000002" y1="413.35" x2="227.3" y2="413.35" stroke="#111" stroke-width="1.1"/>
<text transform="translate(220.5,416.55) scale(1.0,1.0)" x="0" y="0" font-size="9.0" text-anchor="end" font-weight="normal" fill="#1a1a1a" stroke="#1a1a1a" stroke-width="0.2">-20</text>
<line x1="223.70000000000002" y1="402.5" x2="227.3" y2="402.5" stroke="#111" stroke-width="1.1"/>
<text transform="translate(220.5,405.7) scale(1.0,1.0)" x="0" y="0" font-size="9.0" text-anchor="end" font-weight="normal" fill="#1a1a1a" stroke="#1a1a1a" stroke-width="0.2">0</text>
<line x1="223.70000000000002" y1="391.65" x2="227.3" y2="391.65" stroke="#111" stroke-width="1.1"/>
<text transform="translate(220.5,394.84999999999997) scale(1.0,1.0)" x="0" y="0" font-size="9.0" text-anchor="end" font-weight="normal" fill="#1a1a1a" stroke="#1a1a1a" stroke-width="0.2">20</text>
<line x1="223.70000000000002" y1="380.8" x2="227.3" y2="380.8" stroke="#111" stroke-width="1.1"/>
<text transform="translate(220.5,384.0) scale(1.0,1.0)" x="0" y="0" font-size="9.0" text-anchor="end" font-weight="normal" fill="#1a1a1a" stroke="#1a1a1a" stroke-width="0.2">40</text>
<line x1="223.70000000000002" y1="369.95" x2="227.3" y2="369.95" stroke="#111" stroke-width="1.1"/>
<text transform="translate(220.5,373.15) scale(1.0,1.0)" x="0" y="0" font-size="9.0" text-anchor="end" font-weight="normal" fill="#1a1a1a" stroke="#1a1a1a" stroke-width="0.2">60</text>
<line x1="223.70000000000002" y1="359.1" x2="227.3" y2="359.1" stroke="#111" stroke-width="1.1"/>
<text transform="translate(220.5,362.3) scale(1.0,1.0)" x="0" y="0" font-size="9.0" text-anchor="end" font-weight="normal" fill="#1a1a1a" stroke="#1a1a1a" stroke-width="0.2">80</text>
<line x1="223.70000000000002" y1="348.25" x2="227.3" y2="348.25" stroke="#111" stroke-width="1.1"/>
<text transform="translate(220.5,351.45) scale(0.93,1.0)" x="0" y="0" font-size="9.0" text-anchor="end" font-weight="normal" fill="#1a1a1a" stroke="#1a1a1a" stroke-width="0.2">100</text>
<line x1="255.7" y1="402.5" x2="255.7" y2="405.1" stroke="#333" stroke-width="0.9"/>
<text transform="translate(255.7,416.1) scale(1.0,1.0)" x="0" y="0" font-size="9.0" text-anchor="middle" font-weight="normal" fill="#1a1a1a" stroke="#1a1a1a" stroke-width="0.2">1.5</text>
<line x1="284.0" y1="402.5" x2="284.0" y2="405.1" stroke="#333" stroke-width="0.9"/>
<text transform="translate(284.0,416.1) scale(1.0,1.0)" x="0" y="0" font-size="9.0" text-anchor="middle" font-weight="normal" fill="#1a1a1a" stroke="#1a1a1a" stroke-width="0.2">2.0</text>
<line x1="311.0" y1="402.5" x2="311.0" y2="405.1" stroke="#333" stroke-width="0.9"/>
<text transform="translate(311.0,416.1) scale(1.0,1.0)" x="0" y="0" font-size="9.0" text-anchor="middle" font-weight="normal" fill="#1a1a1a" stroke="#1a1a1a" stroke-width="0.2">2.5</text>
<line x1="227.8" y1="375.5" x2="311.6" y2="375.5" stroke="#303030" stroke-width="1.2" stroke-dasharray="3.2,2.2"/>
<line x1="318.0" y1="375.5" x2="336.3" y2="375.5" stroke="#5fa5e0" stroke-width="1.2"/>
<path d="M315.0,375.5 L322.5,371.9 L320.5,375.5 L322.5,379.1 Z" fill="#5fa5e0"/>
<text transform="translate(187.8,380.7) rotate(-90) scale(1.0,1.12)" x="0" y="0" font-size="8.6" text-anchor="middle" font-weight="normal" fill="#1a1a1a" stroke="#1a1a1a" stroke-width="0.5" textLength="40.5" lengthAdjust="spacingAndGlyphs">% dead cells</text>
<text transform="translate(199.6,379.2) rotate(-90) scale(1.0,1.12)" x="0" y="0" font-size="8.6" text-anchor="middle" font-weight="normal" fill="#1a1a1a" stroke="#1a1a1a" stroke-width="0.5" textLength="56.5" lengthAdjust="spacingAndGlyphs">(relative to DMSO)</text>
<text transform="translate(271.2,429.8) scale(1.0,1.17)" x="0" y="0" font-size="8.8" text-anchor="middle" font-weight="normal" fill="#1a1a1a" stroke="#1a1a1a" stroke-width="0.5" textLength="60" lengthAdjust="spacingAndGlyphs">Concentration (log)</text>
<polyline points="237.7,402.4 255.7,402.4 271.9,399.7 289.0,377.7 305.8,358.1" fill="none" stroke="#6cb545" stroke-width="1.05" stroke-linejoin="round"/>
<polyline points="237.7,402.4 255.7,396.7 271.9,373.1 289.0,363.2 305.8,362.3" fill="none" stroke="#a8113a" stroke-width="1.35" stroke-linejoin="round"/>
<polyline points="237.7,403.3 255.7,403.3 271.9,403.0 289.0,403.3 305.8,403.5" fill="none" stroke="#23448a" stroke-width="1.3" stroke-linejoin="round"/>
<line x1="226.70000000000002" y1="402.5" x2="314.6" y2="402.5" stroke="#111" stroke-width="1.4"/>
<path d="M237.7,400.09999999999997 L239.89999999999998,404.09999999999997 L235.5,404.09999999999997 Z" fill="#6cb545"/>
<path d="M255.7,400.09999999999997 L257.9,404.09999999999997 L253.5,404.09999999999997 Z" fill="#6cb545"/>
<path d="M271.9,397.4 L274.09999999999997,401.4 L269.7,401.4 Z" fill="#6cb545"/>
<path d="M289.0,375.4 L291.2,379.4 L286.8,379.4 Z" fill="#6cb545"/>
<path d="M305.8,355.8 L308.0,359.8 L303.6,359.8 Z" fill="#6cb545"/>
<line x1="289.0" y1="372.0" x2="289.0" y2="380.0" stroke="#333" stroke-width="0.8"/>
<line x1="287.2" y1="372.0" x2="290.8" y2="372.0" stroke="#333" stroke-width="0.9"/>
<line x1="287.2" y1="380.0" x2="290.8" y2="380.0" stroke="#333" stroke-width="0.9"/>
<rect x="235.54999999999998" y="400.25" width="4.3" height="4.3" fill="#a8113a"/>
<rect x="253.54999999999998" y="394.55" width="4.3" height="4.3" fill="#a8113a"/>
<rect x="269.75" y="370.95000000000005" width="4.3" height="4.3" fill="#a8113a"/>
<rect x="286.85" y="361.05" width="4.3" height="4.3" fill="#a8113a"/>
<rect x="303.65000000000003" y="360.15000000000003" width="4.3" height="4.3" fill="#a8113a"/>
<circle cx="237.7" cy="403.3" r="1.9" fill="#23448a"/>
<circle cx="255.7" cy="403.3" r="1.9" fill="#23448a"/>
<circle cx="271.9" cy="403.0" r="1.9" fill="#23448a"/>
<circle cx="289.0" cy="403.3" r="1.9" fill="#23448a"/>
<circle cx="305.8" cy="403.5" r="1.9" fill="#23448a"/>
<text transform="translate(411.9,318.1) scale(1.0,1.05)" x="0" y="0" font-size="9.9" text-anchor="start" font-weight="normal" fill="#1a1a1a" stroke="#1a1a1a" stroke-width="0.2" textLength="66.2" lengthAdjust="spacingAndGlyphs">Primary AML10</text>
<line x1="380.4" y1="330.6" x2="386.9" y2="330.6" stroke="#23448a" stroke-width="1.3"/>
<circle cx="383.65" cy="330.6" r="2.0" fill="#23448a"/>
<text transform="translate(390.0,333.6) scale(1.0,1.08)" x="0" y="0" font-size="8.3" text-anchor="start" font-weight="normal" fill="#1a1a1a" stroke="#1a1a1a" stroke-width="0.2" textLength="21.2" lengthAdjust="spacingAndGlyphs">SN50</text>
<line x1="420.2" y1="330.6" x2="426.9" y2="330.6" stroke="#a8113a" stroke-width="1.3"/>
<rect x="421.54999999999995" y="328.6" width="4.0" height="4.0" fill="#a8113a"/>
<text transform="translate(429.8,333.6) scale(1.0,1.08)" x="0" y="0" font-size="8.3" text-anchor="start" font-weight="normal" fill="#1a1a1a" stroke="#1a1a1a" stroke-width="0.2" textLength="18.3" lengthAdjust="spacingAndGlyphs">PAC</text>
<line x1="455.2" y1="330.6" x2="462.3" y2="330.6" stroke="#6cb545" stroke-width="1.3"/>
<path d="M458.75,328.53000000000003 L460.73,332.13 L456.77,332.13 Z" fill="#6cb545"/>
<text transform="translate(465.3,333.6) scale(1.0,1.08)" x="0" y="0" font-size="8.3" text-anchor="start" font-weight="normal" fill="#1a1a1a" stroke="#1a1a1a" stroke-width="0.2" textLength="46.3" lengthAdjust="spacingAndGlyphs">SN50 + PAC</text>
<line x1="399.9" y1="342.2" x2="399.9" y2="417.6" stroke="#111" stroke-width="1.4"/>
<line x1="399.29999999999995" y1="402.1" x2="491.6" y2="402.1" stroke="#111" stroke-width="1.4"/>
<line x1="396.29999999999995" y1="413.33000000000004" x2="399.9" y2="413.33000000000004" stroke="#111" stroke-width="1.1"/>
<text transform="translate(393.09999999999997,416.53000000000003) scale(1.0,1.0)" x="0" y="0" font-size="9.0" text-anchor="end" font-weight="normal" fill="#1a1a1a" stroke="#1a1a1a" stroke-width="0.2">-20</text>
<line x1="396.29999999999995" y1="402.1" x2="399.9" y2="402.1" stroke="#111" stroke-width="1.1"/>
<text transform="translate(393.09999999999997,405.3) scale(1.0,1.0)" x="0" y="0" font-size="9.0" text-anchor="end" font-weight="normal" fill="#1a1a1a" stroke="#1a1a1a" stroke-width="0.2">0</text>
<line x1="396.29999999999995" y1="390.87" x2="399.9" y2="390.87" stroke="#111" stroke-width="1.1"/>
<text transform="translate(393.09999999999997,394.07) scale(1.0,1.0)" x="0" y="0" font-size="9.0" text-anchor="end" font-weight="normal" fill="#1a1a1a" stroke="#1a1a1a" stroke-width="0.2">20</text>
<line x1="396.29999999999995" y1="379.64000000000004" x2="399.9" y2="379.64000000000004" stroke="#111" stroke-width="1.1"/>
<text transform="translate(393.09999999999997,382.84000000000003) scale(1.0,1.0)" x="0" y="0" font-size="9.0" text-anchor="end" font-weight="normal" fill="#1a1a1a" stroke="#1a1a1a" stroke-width="0.2">40</text>
<line x1="396.29999999999995" y1="368.41" x2="399.9" y2="368.41" stroke="#111" stroke-width="1.1"/>
<text transform="translate(393.09999999999997,371.61) scale(1.0,1.0)" x="0" y="0" font-size="9.0" text-anchor="end" font-weight="normal" fill="#1a1a1a" stroke="#1a1a1a" stroke-width="0.2">60</text>
<line x1="396.29999999999995" y1="357.18" x2="399.9" y2="357.18" stroke="#111" stroke-width="1.1"/>
<text transform="translate(393.09999999999997,360.38) scale(1.0,1.0)" x="0" y="0" font-size="9.0" text-anchor="end" font-weight="normal" fill="#1a1a1a" stroke="#1a1a1a" stroke-width="0.2">80</text>
<line x1="396.29999999999995" y1="345.95000000000005" x2="399.9" y2="345.95000000000005" stroke="#111" stroke-width="1.1"/>
<text transform="translate(393.09999999999997,349.15000000000003) scale(0.93,1.0)" x="0" y="0" font-size="9.0" text-anchor="end" font-weight="normal" fill="#1a1a1a" stroke="#1a1a1a" stroke-width="0.2">100</text>
<line x1="429.4" y1="402.1" x2="429.4" y2="404.70000000000005" stroke="#333" stroke-width="0.9"/>
<text transform="translate(429.4,415.70000000000005) scale(1.0,1.0)" x="0" y="0" font-size="9.0" text-anchor="middle" font-weight="normal" fill="#1a1a1a" stroke="#1a1a1a" stroke-width="0.2">1.5</text>
<line x1="458.1" y1="402.1" x2="458.1" y2="404.70000000000005" stroke="#333" stroke-width="0.9"/>
<text transform="translate(458.1,415.70000000000005) scale(1.0,1.0)" x="0" y="0" font-size="9.0" text-anchor="middle" font-weight="normal" fill="#1a1a1a" stroke="#1a1a1a" stroke-width="0.2">2.0</text>
<line x1="487.4" y1="402.1" x2="487.4" y2="404.70000000000005" stroke="#333" stroke-width="0.9"/>
<text transform="translate(487.4,415.70000000000005) scale(1.0,1.0)" x="0" y="0" font-size="9.0" text-anchor="middle" font-weight="normal" fill="#1a1a1a" stroke="#1a1a1a" stroke-width="0.2">2.5</text>
<line x1="400.4" y1="374.2" x2="488.6" y2="374.2" stroke="#303030" stroke-width="1.2" stroke-dasharray="3.2,2.2"/>
<line x1="494.6" y1="374.2" x2="512.9" y2="374.2" stroke="#5fa5e0" stroke-width="1.2"/>
<path d="M491.6,374.2 L499.1,370.59999999999997 L497.1,374.2 L499.1,377.8 Z" fill="#5fa5e0"/>
<text transform="translate(360.0,380.0) rotate(-90) scale(1.0,1.12)" x="0" y="0" font-size="8.6" text-anchor="middle" font-weight="normal" fill="#1a1a1a" stroke="#1a1a1a" stroke-width="0.5" textLength="40" lengthAdjust="spacingAndGlyphs">% dead cells</text>
<text transform="translate(371.6,379.7) rotate(-90) scale(1.0,1.12)" x="0" y="0" font-size="8.6" text-anchor="middle" font-weight="normal" fill="#1a1a1a" stroke="#1a1a1a" stroke-width="0.5" textLength="57.4" lengthAdjust="spacingAndGlyphs">(relative to DMSO)</text>
<text transform="translate(445.0,430.6) scale(1.0,1.17)" x="0" y="0" font-size="8.8" text-anchor="middle" font-weight="normal" fill="#1a1a1a" stroke="#1a1a1a" stroke-width="0.5" textLength="60" lengthAdjust="spacingAndGlyphs">Concentration (log)</text>
<polyline points="410.0,403.8 429.4,395.0 446.4,367.3 464.0,351.2 481.5,346.5" fill="none" stroke="#6cb545" stroke-width="1.05" stroke-linejoin="round"/>
<polyline points="410.0,400.8 429.4,370.3 446.4,356.9 464.0,350.5 481.5,347.0" fill="none" stroke="#a8113a" stroke-width="1.35" stroke-linejoin="round"/>
<polyline points="410.0,390.0 429.4,390.0 446.4,389.7 464.0,392.3 481.5,384.0" fill="none" stroke="#23448a" stroke-width="1.35" stroke-linejoin="round"/>
<line x1="399.29999999999995" y1="402.1" x2="491.6" y2="402.1" stroke="#111" stroke-width="1.4"/>
<path d="M410.0,401.5 L412.2,405.5 L407.8,405.5 Z" fill="#6cb545"/>
<path d="M429.4,392.7 L431.59999999999997,396.7 L427.2,396.7 Z" fill="#6cb545"/>
<path d="M446.4,365.0 L448.59999999999997,369.0 L444.2,369.0 Z" fill="#6cb545"/>
<path d="M464.0,348.9 L466.2,352.9 L461.8,352.9 Z" fill="#6cb545"/>
<path d="M481.5,344.2 L483.7,348.2 L479.3,348.2 Z" fill="#6cb545"/>
<line x1="410.0" y1="391.6" x2="410.0" y2="408.4" stroke="#333" stroke-width="0.8"/>
<line x1="408.2" y1="391.6" x2="411.8" y2="391.6" stroke="#333" stroke-width="0.9"/>
<line x1="408.2" y1="408.4" x2="411.8" y2="408.4" stroke="#333" stroke-width="0.9"/>
<line x1="429.4" y1="392.3" x2="429.4" y2="396.2" stroke="#333" stroke-width="0.8"/>
<line x1="427.59999999999997" y1="392.3" x2="431.2" y2="392.3" stroke="#333" stroke-width="0.9"/>
<line x1="427.59999999999997" y1="396.2" x2="431.2" y2="396.2" stroke="#333" stroke-width="0.9"/>
<rect x="407.85" y="398.65000000000003" width="4.3" height="4.3" fill="#a8113a"/>
<rect x="427.25" y="368.15000000000003" width="4.3" height="4.3" fill="#a8113a"/>
<rect x="444.25" y="354.75" width="4.3" height="4.3" fill="#a8113a"/>
<rect x="461.85" y="348.35" width="4.3" height="4.3" fill="#a8113a"/>
<rect x="479.35" y="344.85" width="4.3" height="4.3" fill="#a8113a"/>
<circle cx="410.0" cy="390.0" r="2.0" fill="#23448a"/>
<circle cx="429.4" cy="390.0" r="2.0" fill="#23448a"/>
<circle cx="446.4" cy="389.7" r="2.0" fill="#23448a"/>
<circle cx="464.0" cy="392.3" r="2.0" fill="#23448a"/>
<circle cx="481.5" cy="384.0" r="2.0" fill="#23448a"/>
<line x1="429.4" y1="387.4" x2="429.4" y2="392.7" stroke="#333" stroke-width="0.8"/>
<line x1="427.59999999999997" y1="387.4" x2="431.2" y2="387.4" stroke="#333" stroke-width="0.9"/>
<line x1="427.59999999999997" y1="392.7" x2="431.2" y2="392.7" stroke="#333" stroke-width="0.9"/>
<text transform="translate(7.2,459.3) scale(1.0,1.0)" x="0" y="0" font-size="12.4" text-anchor="start" font-weight="bold" fill="#000" stroke="#000" stroke-width="0.55">F</text>
<text transform="translate(66.8,457.9) scale(1.0,1.05)" x="0" y="0" font-size="9.9" text-anchor="start" font-weight="normal" fill="#1a1a1a" stroke="#1a1a1a" stroke-width="0.2" textLength="66.2" lengthAdjust="spacingAndGlyphs">Primary AML10</text>
<line x1="35.6" y1="484.8" x2="41.9" y2="484.8" stroke="#23448a" stroke-width="1.3"/>
<circle cx="38.75" cy="484.8" r="2.0" fill="#23448a"/>
<text transform="translate(45.2,487.8) scale(1.0,1.08)" x="0" y="0" font-size="8.3" text-anchor="start" font-weight="normal" fill="#1a1a1a" stroke="#1a1a1a" stroke-width="0.2" textLength="21.0" lengthAdjust="spacingAndGlyphs">SN50</text>
<line x1="75.0" y1="484.8" x2="81.7" y2="484.8" stroke="#a8113a" stroke-width="1.3"/>
<rect x="76.35" y="482.8" width="4.0" height="4.0" fill="#a8113a"/>
<text transform="translate(84.6,487.8) scale(1.0,1.08)" x="0" y="0" font-size="8.3" text-anchor="start" font-weight="normal" fill="#1a1a1a" stroke="#1a1a1a" stroke-width="0.2" textLength="14.4" lengthAdjust="spacingAndGlyphs">PTL</text>
<line x1="111.1" y1="484.8" x2="118.5" y2="484.8" stroke="#6cb545" stroke-width="1.3"/>
<path d="M114.8,482.73 L116.78,486.33 L112.82,486.33 Z" fill="#6cb545"/>
<text transform="translate(120.8,487.8) scale(1.0,1.08)" x="0" y="0" font-size="8.3" text-anchor="start" font-weight="normal" fill="#1a1a1a" stroke="#1a1a1a" stroke-width="0.2" textLength="43.5" lengthAdjust="spacingAndGlyphs">SN50 + PTL</text>
<line x1="55.2" y1="495.9" x2="55.2" y2="570.2" stroke="#111" stroke-width="1.4"/>
<line x1="54.6" y1="555.0" x2="145.0" y2="555.0" stroke="#111" stroke-width="1.4"/>
<line x1="51.6" y1="566.2" x2="55.2" y2="566.2" stroke="#111" stroke-width="1.1"/>
<text transform="translate(48.400000000000006,569.4000000000001) scale(1.0,1.0)" x="0" y="0" font-size="9.0" text-anchor="end" font-weight="normal" fill="#1a1a1a" stroke="#1a1a1a" stroke-width="0.2">-20</text>
<line x1="51.6" y1="555.0" x2="55.2" y2="555.0" stroke="#111" stroke-width="1.1"/>
<text transform="translate(48.400000000000006,558.2) scale(1.0,1.0)" x="0" y="0" font-size="9.0" text-anchor="end" font-weight="normal" fill="#1a1a1a" stroke="#1a1a1a" stroke-width="0.2">0</text>
<line x1="51.6" y1="543.8" x2="55.2" y2="543.8" stroke="#111" stroke-width="1.1"/>
<text transform="translate(48.400000000000006,547.0) scale(1.0,1.0)" x="0" y="0" font-size="9.0" text-anchor="end" font-weight="normal" fill="#1a1a1a" stroke="#1a1a1a" stroke-width="0.2">20</text>
<line x1="51.6" y1="532.6" x2="55.2" y2="532.6" stroke="#111" stroke-width="1.1"/>
<text transform="translate(48.400000000000006,535.8000000000001) scale(1.0,1.0)" x="0" y="0" font-size="9.0" text-anchor="end" font-weight="normal" fill="#1a1a1a" stroke="#1a1a1a" stroke-width="0.2">40</text>
<line x1="51.6" y1="521.4" x2="55.2" y2="521.4" stroke="#111" stroke-width="1.1"/>
<text transform="translate(48.400000000000006,524.6) scale(1.0,1.0)" x="0" y="0" font-size="9.0" text-anchor="end" font-weight="normal" fill="#1a1a1a" stroke="#1a1a1a" stroke-width="0.2">60</text>
<line x1="51.6" y1="510.2" x2="55.2" y2="510.2" stroke="#111" stroke-width="1.1"/>
<text transform="translate(48.400000000000006,513.4) scale(1.0,1.0)" x="0" y="0" font-size="9.0" text-anchor="end" font-weight="normal" fill="#1a1a1a" stroke="#1a1a1a" stroke-width="0.2">80</text>
<line x1="51.6" y1="499.0" x2="55.2" y2="499.0" stroke="#111" stroke-width="1.1"/>
<text transform="translate(48.400000000000006,502.2) scale(0.93,1.0)" x="0" y="0" font-size="9.0" text-anchor="end" font-weight="normal" fill="#1a1a1a" stroke="#1a1a1a" stroke-width="0.2">100</text>
<line x1="84.3" y1="555.0" x2="84.3" y2="557.6" stroke="#333" stroke-width="0.9"/>
<text transform="translate(84.3,568.6) scale(1.0,1.0)" x="0" y="0" font-size="9.0" text-anchor="middle" font-weight="normal" fill="#1a1a1a" stroke="#1a1a1a" stroke-width="0.2">0.5</text>
<line x1="113.3" y1="555.0" x2="113.3" y2="557.6" stroke="#333" stroke-width="0.9"/>
<text transform="translate(113.3,568.6) scale(1.0,1.0)" x="0" y="0" font-size="9.0" text-anchor="middle" font-weight="normal" fill="#1a1a1a" stroke="#1a1a1a" stroke-width="0.2">1.0</text>
<line x1="141.8" y1="555.0" x2="141.8" y2="557.6" stroke="#333" stroke-width="0.9"/>
<text transform="translate(141.8,568.6) scale(1.0,1.0)" x="0" y="0" font-size="9.0" text-anchor="middle" font-weight="normal" fill="#1a1a1a" stroke="#1a1a1a" stroke-width="0.2">1.5</text>
<line x1="55.7" y1="527.3" x2="142.8" y2="527.3" stroke="#303030" stroke-width="1.2" stroke-dasharray="3.2,2.2"/>
<line x1="149.2" y1="527.3" x2="167.0" y2="527.3" stroke="#5fa5e0" stroke-width="1.2"/>
<path d="M146.2,527.3 L153.7,523.6999999999999 L151.7,527.3 L153.7,530.9 Z" fill="#5fa5e0"/>
<text transform="translate(15.8,530.9) rotate(-90) scale(1.0,1.12)" x="0" y="0" font-size="8.6" text-anchor="middle" font-weight="normal" fill="#1a1a1a" stroke="#1a1a1a" stroke-width="0.5" textLength="38" lengthAdjust="spacingAndGlyphs">% dead cells</text>
<text transform="translate(28.6,532.5) rotate(-90) scale(1.0,1.12)" x="0" y="0" font-size="8.6" text-anchor="middle" font-weight="normal" fill="#1a1a1a" stroke="#1a1a1a" stroke-width="0.5" textLength="56.5" lengthAdjust="spacingAndGlyphs">(relative to DMSO)</text>
<text transform="translate(100.7,582.8) scale(1.0,1.17)" x="0" y="0" font-size="8.8" text-anchor="middle" font-weight="normal" fill="#1a1a1a" stroke="#1a1a1a" stroke-width="0.5" textLength="60" lengthAdjust="spacingAndGlyphs">Concentration (log)</text>
<polyline points="61.1,533.8 78.5,528.5 95.9,525.0 113.3,518.8 130.6,515.8" fill="none" stroke="#6cb545" stroke-width="1.05" stroke-linejoin="round"/>
<polyline points="61.1,545.8 78.5,538.2 95.9,531.3 113.3,527.3 130.6,526.7" fill="none" stroke="#a8113a" stroke-width="1.35" stroke-linejoin="round"/>
<polyline points="61.1,542.8 78.5,542.8 95.9,542.8 113.3,545.4 130.6,536.6" fill="none" stroke="#23448a" stroke-width="1.35" stroke-linejoin="round"/>
<line x1="54.6" y1="555.0" x2="145.0" y2="555.0" stroke="#111" stroke-width="1.4"/>
<path d="M61.1,531.5 L63.300000000000004,535.5 L58.9,535.5 Z" fill="#6cb545"/>
<path d="M78.5,526.2 L80.7,530.2 L76.3,530.2 Z" fill="#6cb545"/>
<path d="M95.9,522.7 L98.10000000000001,526.7 L93.7,526.7 Z" fill="#6cb545"/>
<path d="M113.3,516.5 L115.5,520.5 L111.1,520.5 Z" fill="#6cb545"/>
<path d="M130.6,513.5 L132.79999999999998,517.5 L128.4,517.5 Z" fill="#6cb545"/>
<line x1="61.1" y1="530.8" x2="61.1" y2="536" stroke="#333" stroke-width="0.8"/>
<line x1="59.300000000000004" y1="530.8" x2="62.9" y2="530.8" stroke="#333" stroke-width="0.9"/>
<line x1="59.300000000000004" y1="536" x2="62.9" y2="536" stroke="#333" stroke-width="0.9"/>
<line x1="130.6" y1="513.6" x2="130.6" y2="517.5" stroke="#333" stroke-width="0.8"/>
<line x1="128.79999999999998" y1="513.6" x2="132.4" y2="513.6" stroke="#333" stroke-width="0.9"/>
<line x1="128.79999999999998" y1="517.5" x2="132.4" y2="517.5" stroke="#333" stroke-width="0.9"/>
<rect x="58.95" y="543.65" width="4.3" height="4.3" fill="#a8113a"/>
<rect x="76.35" y="536.0500000000001" width="4.3" height="4.3" fill="#a8113a"/>
<rect x="93.75" y="529.15" width="4.3" height="4.3" fill="#a8113a"/>
<rect x="111.14999999999999" y="525.15" width="4.3" height="4.3" fill="#a8113a"/>
<rect x="128.45" y="524.5500000000001" width="4.3" height="4.3" fill="#a8113a"/>
<line x1="113.3" y1="524.2" x2="113.3" y2="530.0" stroke="#333" stroke-width="0.8"/>
<line x1="111.5" y1="524.2" x2="115.1" y2="524.2" stroke="#333" stroke-width="0.9"/>
<line x1="111.5" y1="530.0" x2="115.1" y2="530.0" stroke="#333" stroke-width="0.9"/>
<circle cx="61.1" cy="542.8" r="2.0" fill="#23448a"/>
<circle cx="78.5" cy="542.8" r="2.0" fill="#23448a"/>
<circle cx="95.9" cy="542.8" r="2.0" fill="#23448a"/>
<circle cx="113.3" cy="545.4" r="2.0" fill="#23448a"/>
<circle cx="130.6" cy="536.6" r="2.0" fill="#23448a"/>
<line x1="78.5" y1="539.2" x2="78.5" y2="547.0" stroke="#333" stroke-width="0.8"/>
<line x1="76.7" y1="539.2" x2="80.3" y2="539.2" stroke="#333" stroke-width="0.9"/>
<line x1="76.7" y1="547.0" x2="80.3" y2="547.0" stroke="#333" stroke-width="0.9"/>
<text transform="translate(183.3,460.3) scale(1.0,1.0)" x="0" y="0" font-size="12.4" text-anchor="start" font-weight="bold" fill="#000" stroke="#000" stroke-width="0.55">G</text>
<text transform="translate(274.6,458.1) scale(1.0,1.05)" x="0" y="0" font-size="9.9" text-anchor="start" font-weight="normal" fill="#1a1a1a" stroke="#1a1a1a" stroke-width="0.2" textLength="67.2" lengthAdjust="spacingAndGlyphs">Primary AML10</text>
<line x1="230.8" y1="467.9" x2="230.8" y2="555.6" stroke="#111" stroke-width="1.4"/>
<line x1="230.20000000000002" y1="527.1" x2="386.3" y2="527.1" stroke="#111" stroke-width="1.4"/>
<line x1="230.20000000000002" y1="555.0" x2="386.3" y2="555.0" stroke="#111" stroke-width="1.4"/>
<line x1="227.2" y1="555.0" x2="230.8" y2="555.0" stroke="#111" stroke-width="1.1"/>
<text transform="translate(224.4,558.2) scale(1.0,1.0)" x="0" y="0" font-size="9.0" text-anchor="end" font-weight="normal" fill="#1a1a1a" stroke="#1a1a1a" stroke-width="0.2">-0.2</text>
<line x1="227.2" y1="527.0" x2="230.8" y2="527.0" stroke="#111" stroke-width="1.1"/>
<text transform="translate(224.4,530.2) scale(1.0,1.0)" x="0" y="0" font-size="9.0" text-anchor="end" font-weight="normal" fill="#1a1a1a" stroke="#1a1a1a" stroke-width="0.2">0.0</text>
<line x1="227.2" y1="499.0" x2="230.8" y2="499.0" stroke="#111" stroke-width="1.1"/>
<text transform="translate(224.4,502.2) scale(1.0,1.0)" x="0" y="0" font-size="9.0" text-anchor="end" font-weight="normal" fill="#1a1a1a" stroke="#1a1a1a" stroke-width="0.2">0.2</text>
<line x1="227.2" y1="471.0" x2="230.8" y2="471.0" stroke="#111" stroke-width="1.1"/>
<text transform="translate(224.4,474.2) scale(1.0,1.0)" x="0" y="0" font-size="9.0" text-anchor="end" font-weight="normal" fill="#1a1a1a" stroke="#1a1a1a" stroke-width="0.2">0.4</text>
<text transform="translate(192.3,510.9) rotate(-90) scale(1.0,1.12)" x="0" y="0" font-size="8.6" text-anchor="middle" font-weight="normal" fill="#1a1a1a" stroke="#1a1a1a" stroke-width="0.5" textLength="70" lengthAdjust="spacingAndGlyphs">Log fold change NF-κB</text>
<text transform="translate(204.4,511.4) rotate(-90) scale(1.0,1.12)" x="0" y="0" font-size="8.6" text-anchor="middle" font-weight="normal" fill="#1a1a1a" stroke="#1a1a1a" stroke-width="0.5" textLength="81" lengthAdjust="spacingAndGlyphs">activity (relative to control)</text>
<rect x="232.7" y="527.1" width="21.5" height="5.2999999999999545" fill="#a8002c" stroke="rgba(0,0,0,0.35)" stroke-width="0.6"/>
<line x1="243.45" y1="532.4" x2="243.45" y2="534.2" stroke="#505050" stroke-width="1.1"/>
<line x1="238.29999999999998" y1="534.2" x2="248.6" y2="534.2" stroke="#505050" stroke-width="1.1"/>
<rect x="265.0" y="500.1" width="21.4" height="27.0" fill="#2b4b86" stroke="rgba(0,0,0,0.35)" stroke-width="0.6"/>
<line x1="275.7" y1="500.1" x2="275.7" y2="481.3" stroke="#505050" stroke-width="1.1"/>
<line x1="270.5" y1="481.3" x2="280.9" y2="481.3" stroke="#505050" stroke-width="1.1"/>
<rect x="297.8" y="527.1" width="21.4" height="2.699999999999932" fill="#6aab43" stroke="rgba(0,0,0,0.35)" stroke-width="0.6"/>
<line x1="308.5" y1="529.8" x2="308.5" y2="535.5" stroke="#505050" stroke-width="1.1"/>
<line x1="303.1" y1="535.5" x2="313.9" y2="535.5" stroke="#505050" stroke-width="1.1"/>
<rect x="330.2" y="527.1" width="21.1" height="14.799999999999955" fill="#4b2273" stroke="rgba(0,0,0,0.35)" stroke-width="0.6"/>
<line x1="340.75" y1="541.9" x2="340.75" y2="547.7" stroke="#505050" stroke-width="1.1"/>
<line x1="335.45" y1="547.7" x2="346.05" y2="547.7" stroke="#505050" stroke-width="1.1"/>
<rect x="362.3" y="527.1" width="21.7" height="2.8999999999999773" fill="#f0a030" stroke="rgba(0,0,0,0.35)" stroke-width="0.6"/>
<line x1="373.15000000000003" y1="530.0" x2="373.15000000000003" y2="531.0" stroke="#505050" stroke-width="1.1"/>
<line x1="367.8" y1="531.0" x2="378.50000000000006" y2="531.0" stroke="#505050" stroke-width="1.1"/>
<line x1="230.20000000000002" y1="527.1" x2="386.3" y2="527.1" stroke="#111" stroke-width="1.4"/>
<line x1="243.6" y1="555" x2="243.6" y2="557.8" stroke="#333" stroke-width="0.9"/>
<text transform="translate(243.6,568.9) scale(1.0,1.17)" x="0" y="0" font-size="8" text-anchor="middle" font-weight="normal" fill="#1a1a1a" stroke="#1a1a1a" stroke-width="0.2" textLength="21.0" lengthAdjust="spacingAndGlyphs">SN50</text>
<line x1="275.8" y1="555" x2="275.8" y2="557.8" stroke="#333" stroke-width="0.9"/>
<text transform="translate(275.8,568.9) scale(1.0,1.17)" x="0" y="0" font-size="8" text-anchor="middle" font-weight="normal" fill="#1a1a1a" stroke="#1a1a1a" stroke-width="0.2" textLength="24.2" lengthAdjust="spacingAndGlyphs">A-PAC</text>
<line x1="308.4" y1="555" x2="308.4" y2="557.8" stroke="#333" stroke-width="0.9"/>
<text transform="translate(308.4,568.9) scale(1.0,1.17)" x="0" y="0" font-size="8" text-anchor="middle" font-weight="normal" fill="#1a1a1a" stroke="#1a1a1a" stroke-width="0.2" textLength="25.8" lengthAdjust="spacingAndGlyphs">SN50+</text>
<text transform="translate(308.4,579.2) scale(1.0,1.17)" x="0" y="0" font-size="8" text-anchor="middle" font-weight="normal" fill="#1a1a1a" stroke="#1a1a1a" stroke-width="0.2" textLength="24.2" lengthAdjust="spacingAndGlyphs">A-PAC</text>
<line x1="340.8" y1="555" x2="340.8" y2="557.8" stroke="#333" stroke-width="0.9"/>
<text transform="translate(340.8,568.9) scale(1.0,1.17)" x="0" y="0" font-size="8" text-anchor="middle" font-weight="normal" fill="#1a1a1a" stroke="#1a1a1a" stroke-width="0.2" textLength="13.6" lengthAdjust="spacingAndGlyphs">PTL</text>
<line x1="373.2" y1="555" x2="373.2" y2="557.8" stroke="#333" stroke-width="0.9"/>
<text transform="translate(373.2,568.9) scale(1.0,1.17)" x="0" y="0" font-size="8" text-anchor="middle" font-weight="normal" fill="#1a1a1a" stroke="#1a1a1a" stroke-width="0.2" textLength="25.8" lengthAdjust="spacingAndGlyphs">SN50+</text>
<text transform="translate(373.2,579.2) scale(1.0,1.17)" x="0" y="0" font-size="8" text-anchor="middle" font-weight="normal" fill="#1a1a1a" stroke="#1a1a1a" stroke-width="0.2" textLength="13.6" lengthAdjust="spacingAndGlyphs">PTL</text>
<rect x="0" y="0" width="520" height="1.1" fill="#000"/><rect x="0" y="0" width="1.1" height="593" fill="#000"/><rect x="518.4" y="0" width="1.6" height="593" fill="#000"/><rect x="0" y="591.4" width="520" height="1.6" fill="#000"/>
</svg>
</body></html>
